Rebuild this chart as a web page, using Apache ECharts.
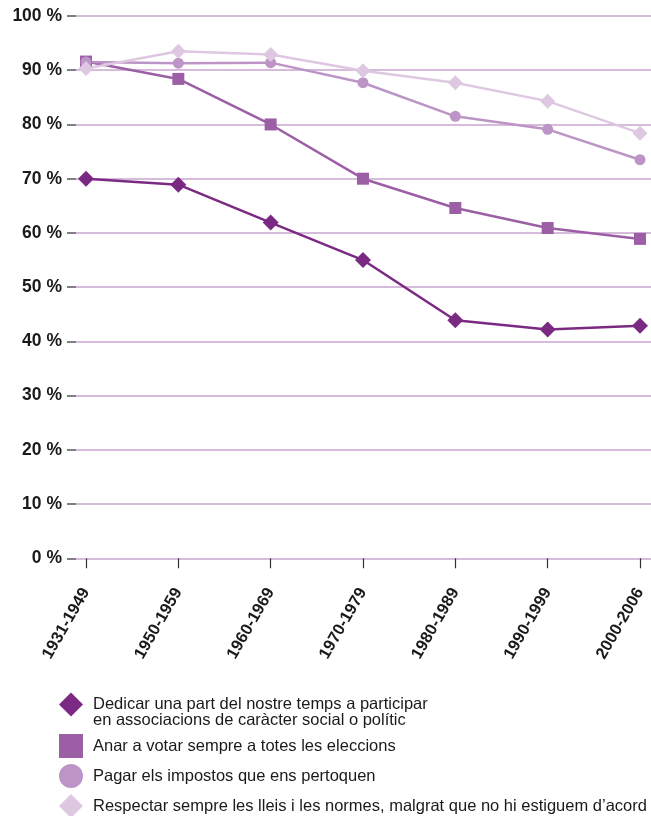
<!DOCTYPE html>
<html>
<head>
<meta charset="utf-8">
<script src="https://cdn.jsdelivr.net/npm/echarts@6/dist/echarts.min.js"></script>
<style>
  html, body { margin: 0; padding: 0; background: #fff; }
  #chart { width: 651px; height: 816px; }
</style>
</head>
<body>
<div id="chart"></div>
<script>
const categories = ['1931-1949', '1950-1959', '1960-1969', '1970-1979', '1980-1989', '1990-1999', '2000-2006'];
const seriesNames = [
  'Dedicar una part del nostre temps a participar\nen associacions de caràcter social o polític',
  'Anar a votar sempre a totes les eleccions',
  'Pagar els impostos que ens pertoquen',
  'Respectar sempre les lleis i les normes, malgrat que no hi estiguem d\u2019acord'
];
const dedicar = [70.0, 68.9, 61.9, 55.0, 43.9, 42.2, 42.9];
const votar = [91.6, 88.4, 80.0, 70.0, 64.6, 60.9, 58.9];
const impostos = [91.5, 91.3, 91.4, 87.7, 81.5, 79.1, 73.5];
const lleis = [90.3, 93.5, 92.9, 89.9, 87.7, 84.3, 78.4];
const yMin = 0, yMax = 100, yStep = 10;

const colors = ['#7b2a83', '#9c5fa6', '#bc94c5', '#dec8e1'];
const symbols = ['diamond', 'rect', 'circle', 'diamond'];
const symbolSizes = [16, 12, 11, 15];
const values = [dedicar, votar, impostos, lleis];
const FONT = '"Liberation Sans", Arial, Helvetica, sans-serif';

const chart = echarts.init(document.getElementById('chart'), null, { renderer: 'canvas' });

const TOP = 16, BOTTOM = 816 - 558.3;

const legendText = { fontFamily: FONT, fontSize: 16.5, lineHeight: 16, color: '#1a1a1a', padding: [0, 0, 0, 5] };
const legendBase = {
  orient: 'vertical', left: 59, padding: 0, itemWidth: 24, itemHeight: 24, itemGap: 6,
  textStyle: legendText, selectedMode: false
};

const option = {
  animation: false,
  backgroundColor: '#ffffff',
  grid: [
    { left: 76, right: 0, top: TOP, bottom: BOTTOM, containLabel: false, outerBoundsMode: 'none' },
    { left: 86, right: 11, top: TOP, bottom: BOTTOM, containLabel: false, outerBoundsMode: 'none' }
  ],
  xAxis: [
    { gridIndex: 0, type: 'category', data: categories, show: false },
    {
      gridIndex: 1, type: 'category', data: categories, boundaryGap: false,
      axisLine: { show: false },
      axisTick: { show: true, length: 10, lineStyle: { color: '#333', width: 1.2 } },
      axisLabel: {
        rotate: 60, margin: 31, fontFamily: FONT, fontWeight: 'bold', fontSize: 16.5, color: '#1a1a1a'
      },
      splitLine: { show: false }
    }
  ],
  yAxis: [
    {
      gridIndex: 0, type: 'value', min: yMin, max: yMax, interval: yStep,
      axisLine: { show: false },
      axisTick: { show: true, length: 9, lineStyle: { color: '#555', width: 1.5 } },
      axisLabel: {
        formatter: '{value} %', margin: 14, fontFamily: FONT, fontWeight: 'bold', fontSize: 17.5, color: '#1a1a1a'
      },
      splitLine: { show: true, lineStyle: { color: '#c9a5d0', width: 1.5 } }
    },
    { gridIndex: 1, type: 'value', min: yMin, max: yMax, interval: yStep, show: false, splitLine: { show: false } }
  ],
  legend: [
    Object.assign({}, legendBase, {
      top: 680,
      formatter: name => '\n' + name,
      data: [{ name: seriesNames[0], icon: symbols[0] }]
    }),
    Object.assign({}, legendBase, {
      top: 734,
      height: 120,
      data: seriesNames.slice(1).map((n, i) => ({ name: n, icon: symbols[i + 1] }))
    })
  ],
  series: values.map((v, i) => ({
    name: seriesNames[i],
    type: 'line',
    xAxisIndex: 1,
    yAxisIndex: 1,
    data: v,
    symbol: symbols[i],
    symbolSize: symbolSizes[i],
    showAllSymbol: true,
    color: colors[i],
    lineStyle: { color: colors[i], width: 2.5 },
    itemStyle: { color: colors[i] },
    emphasis: { disabled: true }
  }))
};
chart.setOption(option);
</script>
</body>
</html>
